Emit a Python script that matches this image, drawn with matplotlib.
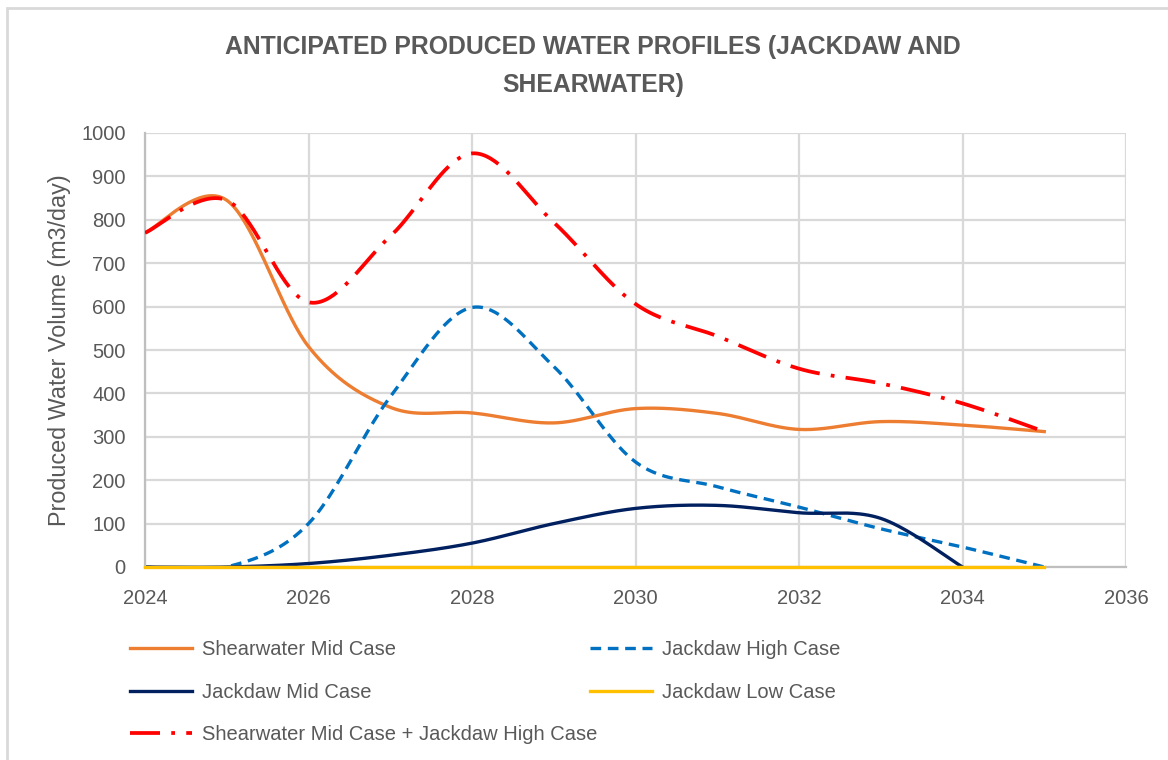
import numpy as np
import matplotlib
matplotlib.use("Agg")
import matplotlib.pyplot as plt
from matplotlib.patches import Rectangle

plt.rcParams['font.family'] = ['Liberation Sans', 'DejaVu Sans']

# yearly values (m3/day)
years = [2024, 2025, 2026, 2027, 2028, 2029, 2030, 2031, 2032, 2033, 2034, 2035]
shearwater_mid = [770, 845, 508, 368, 355, 332, 365, 354, 317, 335, 327, 312]
jackdaw_high = [0, 0, 100, 392, 598, 462, 242, 185, 138, 88, 46, 0]
jackdaw_mid = [0, 0, 8, 27, 55, 100, 135, 142, 125, 112, 0]
jackdaw_low = [0, 0, 0, 0, 0, 0, 0, 0, 0, 0, 0, 0]
combined = [770, 845, 610, 762, 953, 794, 606, 532, 457, 423, 377, 312]

TXT = '#595959'
GRID = '#d9d9d9'


def smooth(x, y, n=40):
    # excel style smoothed line: cubic bezier through the points (catmull-rom)
    x = np.asarray(x, float)
    y = np.asarray(y, float)
    px = np.r_[x[0], x, x[-1]]
    py = np.r_[y[0], y, y[-1]]
    xs, ys = [], []
    t = np.linspace(0, 1, n)
    for i in range(len(x) - 1):
        x0, x1, x2, x3 = px[i:i + 4]
        y0, y1, y2, y3 = py[i:i + 4]
        cx1, cy1 = x1 + (x2 - x0) / 6, y1 + (y2 - y0) / 6
        cx2, cy2 = x2 - (x3 - x1) / 6, y2 - (y3 - y1) / 6
        b0, b1, b2, b3 = (1 - t) ** 3, 3 * (1 - t) ** 2 * t, 3 * (1 - t) * t ** 2, t ** 3
        xs.append(b0 * x1 + b1 * cx1 + b2 * cx2 + b3 * x2)
        ys.append(b0 * y1 + b1 * cy1 + b2 * cy2 + b3 * y2)
    return np.concatenate(xs), np.concatenate(ys)


fig = plt.figure(figsize=(11.68, 7.6), dpi=100)
ax = fig.add_axes([145 / 1168, 1 - 567 / 760, 981 / 1168, 434 / 760])

# chart border
fig.patches.append(Rectangle((7 / 1168, -0.05), 1.1, 1 - 8 / 760 + 0.05, transform=fig.transFigure,
                             fill=False, edgecolor=GRID, lw=2, zorder=0))

lw = 2.4
l1, = ax.plot(*smooth(years, shearwater_mid), color='#ED7D31', lw=lw, label='Shearwater Mid Case')
l2, = ax.plot(*smooth(years, jackdaw_high), color='#0070C0', lw=lw, dashes=(3.2, 2.0),
              label='Jackdaw High Case')
l3, = ax.plot(*smooth(years[:len(jackdaw_mid)], jackdaw_mid), color='#002060', lw=lw,
              label='Jackdaw Mid Case')
l4, = ax.plot(years, jackdaw_low, color='#FFC000', lw=lw, label='Jackdaw Low Case',
              clip_on=False, zorder=3)
l5, = ax.plot(*smooth(years, combined), color='#FF0000', lw=lw + 0.3, dashes=(8, 3, 1, 3),
              label='Shearwater Mid Case + Jackdaw High Case', zorder=4)

ax.set_xlim(2024, 2036)
ax.set_ylim(0, 1000)
ax.set_xticks(range(2024, 2037, 2))
ax.set_yticks(range(0, 1001, 100))
ax.grid(True, color=GRID, lw=1.6)
ax.set_axisbelow(True)
for s in ['top', 'right']:
    ax.spines[s].set_visible(False)
ax.spines['left'].set_color('#bfbfbf')
ax.spines['bottom'].set_color('#bfbfbf')
ax.spines['left'].set_linewidth(1.6)
ax.spines['bottom'].set_linewidth(1.6)
ax.tick_params(axis='both', length=0, labelsize=14.5, labelcolor=TXT)
ax.tick_params(axis='y', pad=14)
ax.tick_params(axis='x', pad=16)
ax.set_ylabel('Produced Water Volume (m3/day)', fontsize=16.8, color=TXT, labelpad=7)

fig.text(0.508, 1 - 66 / 760, 'ANTICIPATED PRODUCED WATER PROFILES (JACKDAW AND\nSHEARWATER)',
         ha='center', va='center', fontsize=17.8, fontweight='bold', color=TXT, linespacing=1.7)

leg_kw = dict(frameon=False, fontsize=14.5, labelcolor=TXT, handlelength=3.1, handletextpad=0.5,
              labelspacing=1.17, borderpad=0, borderaxespad=0, loc='upper left')
leg1 = fig.legend(handles=[l1, l3, l5], bbox_to_anchor=(130 / 1168, 1 - 640 / 760), **leg_kw)
leg2 = fig.legend(handles=[l2, l4], bbox_to_anchor=(590 / 1168, 1 - 640 / 760), **leg_kw)

fig.savefig('out.png', dpi=100)
